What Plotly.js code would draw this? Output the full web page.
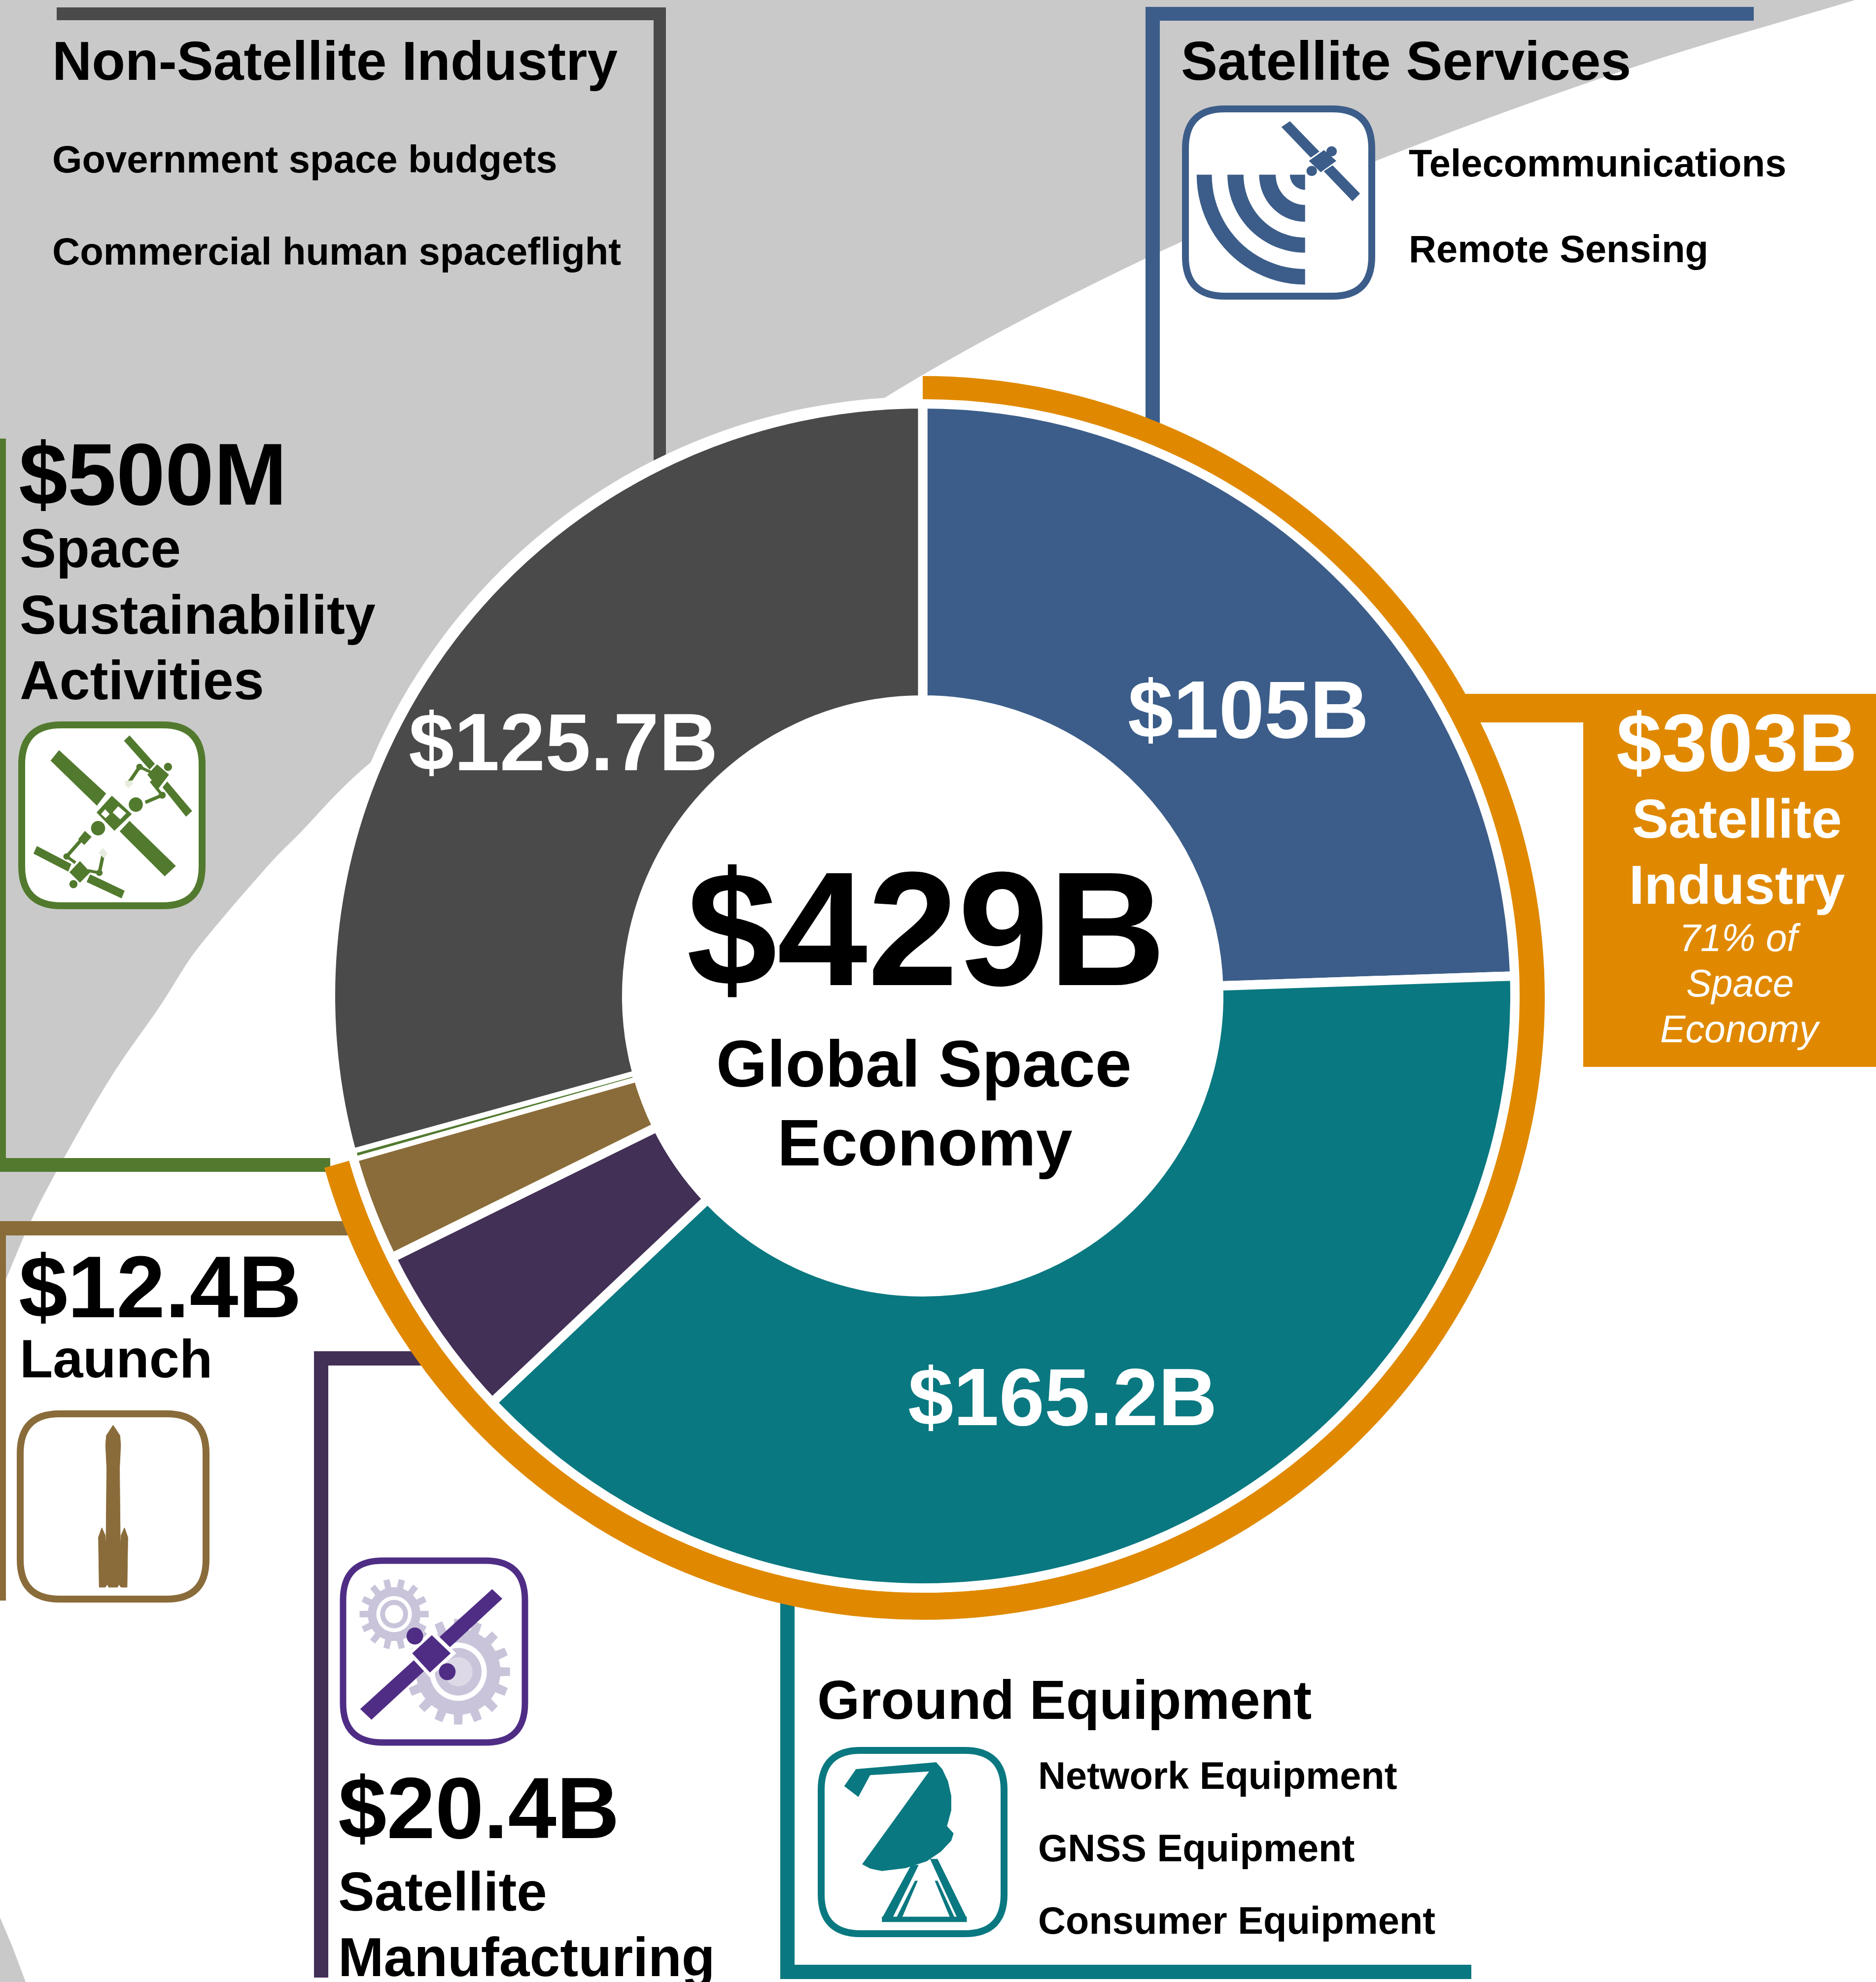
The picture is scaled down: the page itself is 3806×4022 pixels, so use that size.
<!DOCTYPE html>
<html><head><meta charset="utf-8">
<script src="https://cdn.plot.ly/plotly-3.0.1.min.js"></script>
<style>html,body{margin:0;padding:0;background:#fff}#c{width:3806px;height:4022px}</style>
</head><body><div id="c"></div>
<script>
// ---------- data ----------
const segmentNames = ['Satellite Services','Ground Equipment','Satellite Manufacturing','Launch','Space Sustainability Activities','Non-Satellite Industry'];
const segmentValues = [105, 165.2, 20.4, 12.4, 0.5, 125.7];
const ringNames = ['Satellite Industry','Rest of Space Economy'];
const ringValues = [303, 126.2];
const totalName = ['Global Space Economy'];
const totalValue = [429.2];
// ---------- colours ----------
const BLUE='#3c5d89',TEAL='#0a7880',PURPLE='#423056',BROWN='#8a6c3a',GREEN='#527a2e',DARK='#4a4a4a',ORANGE='#e08900',GRAY='#c9c9c9',VIOLET='#4f2d85',LILAC='#c9c4da';

const W=3806,H=4022,CX=1872,CY=2021;
const pt=(x,y)=>(x/W).toFixed(6)+','+(1-y/H).toFixed(6);
const id=p=>p;
const shapes=[];
function poly(pts,color,layer,map,sw){map=map||id;
  const d=pts.map(p=>{const q=map(p);return pt(q[0],q[1]);});
  shapes.push({type:'path',xref:'paper',yref:'paper',path:'M'+d.join('L')+'Z',fillcolor:color,line:sw?{color:color,width:sw}:{width:0},layer:layer||'above'});}
function bar(x0,y0,x1,y1,color){shapes.push({type:'rect',xref:'paper',yref:'paper',x0:x0/W,x1:x1/W,y0:1-y0/H,y1:1-y1/H,fillcolor:color,line:{width:0},layer:'below'});}
function ell(map,cx,cy,rx,ry,color){const a=[];for(let i=0;i<48;i++){const t=i/48*2*Math.PI;a.push([cx+rx*Math.cos(t),cy+ry*Math.sin(t)]);}poly(a,color,'above',map);}
function seg(map,a,b,color,w){const p=map(a),q=map(b);shapes.push({type:'line',xref:'paper',yref:'paper',x0:p[0]/W,y0:1-p[1]/H,x1:q[0]/W,y1:1-q[1]/H,line:{color:color,width:w},layer:'above'});}
function roundBox(x0,y0,x1,y1,r,color,w){const P=pt;
  const d='M'+P(x0+r,y0)+'L'+P(x1-r,y0)+'Q'+P(x1,y0)+' '+P(x1,y0+r)+'L'+P(x1,y1-r)+'Q'+P(x1,y1)+' '+P(x1-r,y1)+'L'+P(x0+r,y1)+'Q'+P(x0,y1)+' '+P(x0,y1-r)+'L'+P(x0,y0+r)+'Q'+P(x0,y0)+' '+P(x0+r,y0)+'Z';
  shapes.push({type:'path',xref:'paper',yref:'paper',path:d,fillcolor:'#fff',line:{color:color,width:w},layer:'above'});}
function qring(map,cx,cy,rxo,ryo,rxi,ryi,color){const a=[];
  for(let i=0;i<=24;i++){const t=i/24*Math.PI/2;a.push([cx-rxo*Math.cos(t),cy+ryo*Math.sin(t)]);}
  for(let i=24;i>=0;i--){const t=i/24*Math.PI/2;a.push([cx-rxi*Math.cos(t),cy+ryi*Math.sin(t)]);}
  poly(a,color,'above',map);}
function gear(map,cx,cy,rIn,rOut,n,color){const a=[];
  for(let i=0;i<n;i++){const s=2*Math.PI/n,b=i*s;
    [[-.5,rIn],[-.27,rIn],[-.2,rOut],[.2,rOut],[.27,rIn]].forEach(([f,r])=>{const t=b+f*s;a.push([cx+r*Math.cos(t),cy+r*Math.sin(t)]);});}
  poly(a,color,'above',map);}

// background curve (gray field behind the upper left)
const curve=[[3790,-8],[3309,138],[2790,327],[2300,536],[1782,815],[1000,1345],[745,1553],[684,1610],[612,1687],[561,1738],[510,1795],[444,1872],[388,1942],[327,2038],[230,2178],[133,2344],[64,2475],[0,2625]];
(function(){let d='M'+pt(0,0)+'L'+pt(W,0)+'L'+pt(curve[0][0],curve[0][1]);
  const tan=i=>{const a=curve[Math.max(i-1,0)],c=curve[Math.min(i+1,curve.length-1)];const dx=c[0]-a[0],dy=c[1]-a[1],l=Math.hypot(dx,dy);return [dx/l,dy/l];};
  for(let i=0;i<curve.length-1;i++){const p=curve[i],q=curve[i+1],l=Math.hypot(q[0]-p[0],q[1]-p[1])/3,u=tan(i),v=tan(i+1);
    d+='C'+pt(p[0]+u[0]*l,p[1]+u[1]*l)+' '+pt(q[0]-v[0]*l,q[1]-v[1]*l)+' '+pt(q[0],q[1]);}
  d+='Z';shapes.push({type:'path',xref:'paper',yref:'paper',path:d,fillcolor:GRAY,line:{width:0},layer:'below'});
  poly([[0,3891],[25,3950],[52,4022],[0,4022]],GRAY,'below');})();

// brackets
bar(115,15,1351,41,DARK);bar(1326,15,1351,950,DARK);
bar(2324,14,3558,42,BLUE);bar(2324,14,2353,860,BLUE);
bar(0,890,12,2378,GREEN);bar(0,2350,670,2378,GREEN);
bar(0,2478,720,2507,BROWN);bar(0,2478,12,3248,BROWN);
bar(637,2742,870,2771,PURPLE);bar(637,2742,666,4013,PURPLE);
bar(1583,3240,1612,4016,TEAL);bar(1583,3987,2985,4016,TEAL);
bar(2950,1408,3212,1466,ORANGE);bar(3212,1408,3806,2165,ORANGE);

// ---------- icons ----------
// green: servicing satellites
const g=p=>[p[0]/1.96,1400+p[1]/1.568];
const gp=(a,c)=>poly(a,c||GREEN,'above',g,c?0:3);
roundBox(44,1471,410,1838,80,GREEN,14);
gp([[235,195],[418,330],[385,365],[205,225]]);
gp([[515,420],[695,560],[655,590],[480,450]]);
gp([[445,340],[520,395],[455,445],[388,390]]);
gp([[418,380],[436,395],[420,408],[402,395]],'#fff');
gp([[470,370],[502,392],[478,412],[448,390]],'#fff');
ell(g,540,365,28,23,GREEN);ell(g,390,440,28,23,GREEN);
seg(g,[578,358],[645,335],GREEN,7);ell(g,645,335,14,11,GREEN);
gp([[515,148],[612,235],[595,250],[497,162]]);
gp([[665,295],[760,385],[740,400],[650,310]]);
gp([[625,240],[668,270],[630,310],[590,270]]);
ell(g,668,245,16,13,GREEN);
seg(g,[555,245],[510,298],GREEN,7);seg(g,[555,245],[600,262],GREEN,6);seg(g,[600,290],[645,335],GREEN,6);
ell(g,555,245,13,10,GREEN);
gp([[497,290],[525,288],[528,300],[510,312],[497,302]],'#e6ede0');
gp([[148,500],[280,555],[270,575],[137,520]]);
gp([[360,590],[492,640],[482,660],[348,610]]);
gp([[318,548],[355,580],[318,610],[280,580]]);
ell(g,292,618,16,13,GREEN);
seg(g,[265,530],[320,480],GREEN,7);gp([[338,452],[360,468],[335,490],[315,475]]);
seg(g,[265,530],[300,550],GREEN,6);seg(g,[395,582],[410,525],GREEN,7);seg(g,[350,575],[395,582],GREEN,6);
ell(g,265,530,13,10,GREEN);ell(g,395,582,13,10,GREEN);
gp([[392,518],[410,503],[428,522],[412,535]],'#e6ede0');

// blue: telecom satellite
const b=p=>[2300+p[0]/1.041,p[1]/1.96];
roundBox(2405,221,2783,601,80,BLUE,14);
poly([[312,505],[330,482],[478,770],[462,800]],BLUE,'above',b);
poly([[402,590],[434,640],[393,692],[364,640]],'#fff','above',b);
poly([[402,597],[428,640],[395,685],[370,640]],BLUE,'above',b);
ell(b,418,602,11,20,BLUE);ell(b,376,680,11,20,BLUE);
qring(b,362,695,229,437,197,375,BLUE);
qring(b,362,695,164,310,130,250,BLUE);
qring(b,362,695,97,187,62,120,BLUE);
qring(b,362,695,32,60,0,0,BLUE);

// brown: launcher
const r=p=>[p[0]/1.307,2800+p[1]/1.283];
roundBox(41,2869,418,3245,80,BROWN,14);
poly([[300,118],[318,145],[320,170],[317,230],[320,520],[312,540],[288,540],[280,520],[283,230],[280,170],[282,145]],BROWN,'above',r,1);
poly([[270,385],[279,405],[287,530],[279,540],[263,540],[261,410]],BROWN,'above',r,1);
poly([[330,385],[339,410],[337,540],[321,540],[313,530],[321,405]],BROWN,'above',r,1);

// purple: gears and satellite
roundBox(696,3167,1065,3536,80,VIOLET,13);
gear(r,1045,610,70,92,14,LILAC);ell(r,1045,610,47,47,'#fff');ell(r,1045,610,37,37,LILAC);ell(r,1045,610,24,24,'#fff');
gear(r,1215,760,112,138,16,LILAC);ell(r,1215,760,76,76,'#fff');ell(r,1215,760,62,62,LILAC);ell(r,1215,760,38,38,'#ddd9e7');
poly([[1305,545],[1332,570],[985,885],[955,857]],VIOLET,'above',r);
poly([[1145,650],[1210,712],[1140,775],[1080,712]],'#fff','above',r);
poly([[1145,665],[1195,712],[1140,762],[1093,712]],VIOLET,'above',r);
ell(r,1100,667,22,22,VIOLET);ell(r,1186,760,22,22,VIOLET);

// teal: dish
const t=p=>[1550+p[0]/1.045,3250+p[1]/2.03];
roundBox(1666,3552,2037,3924,80,TEAL,14);
poly([[195,690],[365,662],[378,690],[390,740],[397,800],[397,860],[388,925],[402,955],[397,985],[375,1030],[345,1070],[300,1098],[250,1110],[225,1100],[208,1082],[350,700],[225,715],[200,805],[170,760]],TEAL,'above',t);
poly([[312,1085],[328,1085],[272,1305],[250,1305]],TEAL,'above',t);
poly([[320,1150],[326,1150],[292,1305],[280,1305]],TEAL,'above',t);
poly([[352,1060],[368,1060],[430,1305],[410,1305]],TEAL,'above',t);
poly([[362,1150],[368,1150],[405,1305],[395,1305]],TEAL,'above',t);
poly([[250,1298],[430,1298],[430,1320],[250,1320]],TEAL,'above',t);

// ---------- text ----------
const FONT='Liberation Sans';
const anns=[];
function T(text,x,y,size,color,anchor,italic){anns.push({xref:'paper',yref:'paper',x:x/W,y:1-y/H,text:text,showarrow:false,xanchor:anchor||'left',yanchor:'middle',
  font:{family:FONT,size:size,color:color||'#000',weight:italic?400:700,style:italic?'italic':'normal'},borderpad:0,borderwidth:0});}
T('$429B',1879,1884,330,'#000','center');
T('Global Space',1874,2159,133,'#000','center');
T('Economy',1876,2319,133,'#000','center');
T('$105B',2532,1439,166,'#fff','center');
T('$125.7B',1143,1505,166,'#fff','center');
T('$165.2B',2156,2834,166,'#fff','center');
T('Non-Satellite Industry',106,124,111);
T('Government space budgets',106,323,77.8);
T('Commercial human spaceflight',106,510,77.8);
T('Satellite Services',2396,124,111);
T('Telecommunications',2858,331,77.6);
T('Remote Sensing',2858,505,77.6);
T('$500M',38,963,178);
T('Space',40,1113,111);
T('Sustainability',40,1248,111);
T('Activities',40,1380,111.5);
T('$12.4B',38,2611,178);
T('Launch',40,2756,110);
T('$20.4B',686,3669,177);
T('Satellite',686,3838,110.5);
T('Manufacturing',686,3972,111);
T('Ground Equipment',1658,3449,110.8);
T('Network Equipment',2106,3603,77.6);
T('GNSS Equipment',2106,3750,77.6);
T('Consumer Equipment',2106,3897,77.6);
T('$303B',3523,1506,166,'#fff','center');
T('Satellite',3524,1662,111,'#fff','center');
T('Industry',3524,1796,111,'#fff','center');
T('71% of',3530,1903,77,'#fff','center',true);
T('Space',3530,1995,77,'#fff','center',true);
T('Economy',3530,2088,77,'#fff','center',true);

// ---------- pies ----------
const dom=(R,cy)=>({x:[(CX-R)/W,(CX+R)/W],y:[1-((cy||CY)+R)/H,1-((cy||CY)-R)/H]});
const CLEAR='rgba(0,0,0,0)';
const common={type:'pie',sort:false,direction:'clockwise',rotation:0,textinfo:'none',hoverinfo:'skip',showlegend:false};
const traces=[
 Object.assign({},common,{labels:totalName,values:totalValue,domain:dom(1216),marker:{colors:['#fff'],line:{width:0}}}),
 Object.assign({},common,{labels:ringNames,values:ringValues,domain:dom(1262,2025),hole:1207/1262,marker:{colors:[ORANGE,CLEAR],line:{width:0}}}),
 Object.assign({},common,{labels:segmentNames,values:segmentValues,domain:dom(1201.5),hole:600.5/1201.5,marker:{colors:[BLUE,TEAL,PURPLE,BROWN,'#fff',DARK],line:{color:'#fff',width:19}}}),
 Object.assign({},common,{labels:segmentNames,values:segmentValues,domain:dom(1193),hole:610/1193,marker:{colors:[CLEAR,CLEAR,CLEAR,CLEAR,GREEN,CLEAR],line:{color:'#fff',width:[0,0,0,0,3,0]}}})
];
Plotly.newPlot('c',traces,{width:W,height:H,margin:{l:0,r:0,t:0,b:0},paper_bgcolor:'#fff',plot_bgcolor:'#fff',shapes:shapes,annotations:anns},{staticPlot:true,responsive:false});
</script></body></html>
